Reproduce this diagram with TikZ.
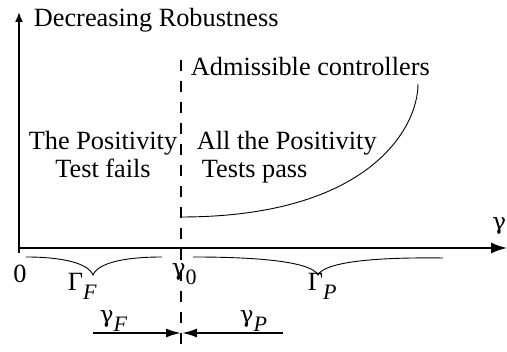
\documentclass[tikz,border=0pt]{standalone}
\usepackage{fontspec}
\setmainfont{Liberation Serif}
\newfontfamily\grkfont{DejaVu Serif}
\usetikzlibrary{arrows.meta, positioning, calc}
\newcommand{\lowsub}[1]{\raisebox{-9pt}{\fontsize{22}{22}\selectfont #1}}
\newcommand{\gam}{{\grkfont\fontsize{23}{23}\selectfont γ}}

\begin{document}
\begin{tikzpicture}[x=1pt, y=1pt, >=Latex, line width=1.8pt,
    lbl/.style={inner sep=0pt, font=\fontsize{26.3}{28}\selectfont},
    thincurve/.style={line width=0.9pt},
    dashline/.style={line width=1.8pt, dash pattern=on 11pt off 10pt}]
  \useasboundingbox (0,0) rectangle (507,352);
  % axes
  \coordinate (orig) at (19,104);
  \coordinate (ybot) at (19,99);
  \coordinate (ytop) at (19,340);
  \coordinate (xend) at (507,104);
  \draw[-{Latex[length=10pt,width=8pt]}] (ybot) -- (ytop);
  \draw[-{Latex[length=16pt,width=11pt]}] (orig) -- (xend);
  % gamma_0 boundary
  \coordinate (dtop) at (181,292);
  \coordinate (dbot) at (181,0);
  \draw[dashline] (dtop) -- (dbot);
  % admissible controllers
  \coordinate (cstart) at (181,135);
  \coordinate (cend) at (418,268);
  \draw[thincurve] (cstart) .. controls (369,135) and (418,224) .. (cend);
  % braces
  \draw[thincurve] (26,95) .. controls (62,95) and (88,89) .. (93,77)
    .. controls (98,89) and (124,95) .. (162,95);
  \draw[thincurve] (193,95) .. controls (268,95) and (312,89) .. (318,77)
    .. controls (324,89) and (368,95) .. (443,94);
  % labels
  \node[lbl, anchor=base west] (ylabel) at (33,325) {Decreasing Robustness};
  \node[lbl, anchor=base west] (adm) at (190,276) {Admissible controllers};
  \node[lbl, align=center, anchor=north] (fails) at (103,222)
    {The Positivity\\Test fails};
  \node[lbl, align=left, anchor=north west] (pass) at (196,222)
    {All the Positivity\\\hspace*{5pt}Tests pass};
  \node[lbl, anchor=base] (zero) at (20,69) {0};
  \node[lbl, anchor=base west] (g0) at (171,76) {\gam\lowsub{0}};
  \node[lbl, anchor=base west] (GF) at (67,61) {Γ\lowsub{\textit{F}}};
  \node[lbl, anchor=base west] (GP) at (307,61) {Γ\lowsub{\textit{P}}};
  \node[lbl, anchor=base west] (gF) at (99,29) {\gam\lowsub{\textit{F}}};
  \node[lbl, anchor=base west] (gP) at (239,29) {\gam\lowsub{\textit{P}}};
  \node[lbl, anchor=base east] (gx) at (507,122) {\gam};
  % gamma_F and gamma_P ranges
  \coordinate (fL) at (93,19);
  \coordinate (fR) at (181,19);
  \coordinate (pR) at (283,19);
  \coordinate (pL) at (182,19);
  \draw[-{Latex[length=15pt,width=9pt]}] (fL) -- (fR);
  \draw[-{Latex[length=15pt,width=9pt]}] (pR) -- (pL);
\end{tikzpicture}
\end{document}
